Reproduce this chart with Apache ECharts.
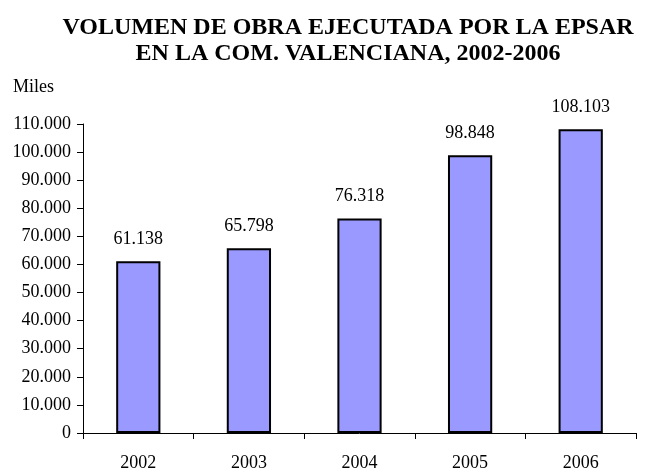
<!DOCTYPE html>
<html lang="es">
  <head>
    <meta charset="UTF-8" />
    <title>EPSAR</title>
    <script src="https://cdn.jsdelivr.net/npm/echarts@6.0.0/dist/echarts.min.js"></script>
  </head>
  <body style="margin: 0">
    <div id="main" style="width: 650px; height: 470px"></div>
    <script type="text/javascript">
      const years = ["2002", "2003", "2004", "2005", "2006"];
      const volumen = [61138, 65798, 76318, 98848, 108103];

      // miles con punto: 61138 -> "61.138"
      const fmt = (v) => String(v).replace(/\B(?=(\d{3})+(?!\d))/g, ".");

      let myChart = echarts.init(document.getElementById("main"));

      let options = {
        animation: false,
        textStyle: { fontFamily: "Liberation Serif", color: "#000" },
        title: {
          text: "VOLUMEN DE OBRA EJECUTADA POR LA EPSAR\nEN LA COM. VALENCIANA, 2002-2006",
          left: 343,
          top: 10,
          textAlign: "center",
          textStyle: {
            fontFamily: "Liberation Serif",
            fontSize: 24,
            fontWeight: "bold",
            color: "#000",
            lineHeight: 26,
          },
        },
        graphic: [
          {
            type: "text",
            left: 13,
            top: 78,
            style: { text: "Miles", font: "18px Liberation Serif", fill: "#000" },
          },
        ],
        grid: { left: 83, right: 14, top: 124, bottom: 37, outerBoundsMode: "none" },
        xAxis: {
          type: "category",
          data: years,
          axisLine: { lineStyle: { color: "#000", width: 1 } },
          axisTick: { show: true, length: 6, lineStyle: { color: "#000" } },
          axisLabel: { fontSize: 18, color: "#000", margin: 21, fontFamily: "Liberation Serif" },
        },
        yAxis: {
          type: "value",
          min: 0,
          max: 110000,
          interval: 10000,
          splitLine: { show: false },
          axisLine: { show: true, lineStyle: { color: "#000", width: 1 } },
          axisTick: { show: true, length: 6, lineStyle: { color: "#000" } },
          axisLabel: {
            fontSize: 18,
            color: "#000",
            margin: 12,
            fontFamily: "Liberation Serif",
            formatter: (v) => fmt(v),
          },
        },
        series: [
          {
            type: "bar",
            data: volumen,
            barWidth: "40%",
            itemStyle: { color: "#9999FF", borderColor: "#000", borderWidth: 2 },
            label: {
              show: true,
              position: "top",
              distance: 13,
              fontSize: 18,
              color: "#000",
              fontFamily: "Liberation Serif",
              formatter: (p) => fmt(p.value),
            },
          },
        ],
      };

      myChart.setOption(options);
    </script>
  </body>
</html>
